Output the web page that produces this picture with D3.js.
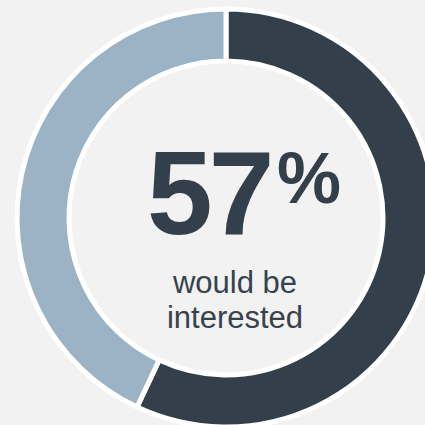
<!DOCTYPE html>
<html><head><meta charset="utf-8">
<script src="https://cdn.jsdelivr.net/npm/d3@7/dist/d3.min.js"></script>
<style>html,body{margin:0;padding:0;background:#f2f2f2;overflow:hidden}</style>
</head><body>
<svg id="c" width="425" height="425"></svg>
<script>
const categories = ["Would be interested", "Not interested"];
const values = [57, 43];
const colors = ["#333f4a", "#9bb3c4"];
const bigLabel = "57";
const pctLabel = "%";
const subLines = ["would be", "interested"];

const svg = d3.select("#c");
svg.append("rect").attr("width",425).attr("height",425).attr("fill","#f2f2f2");
const g = svg.append("g").attr("transform","translate(226,218)");
const pie = d3.pie().sort(null).value(d=>d)(values);
const arc = d3.arc().innerRadius(157).outerRadius(209);
g.selectAll("path").data(pie).join("path")
  .attr("d", arc)
  .attr("fill", (d,i)=>colors[i])
  .attr("stroke","#ffffff").attr("stroke-width",5).attr("stroke-linejoin","miter");

svg.append("text").attr("x",147).attr("y",234)
  .attr("font-family","Liberation Sans, Arial, sans-serif").attr("font-weight","bold")
  .attr("font-size",118).attr("letter-spacing",-4).attr("fill","#333f4a").text(bigLabel);
svg.append("text").attr("x",277).attr("y",203)
  .attr("font-family","Liberation Sans, Arial, sans-serif").attr("font-weight","bold")
  .attr("font-size",72).attr("fill","#333f4a").text(pctLabel);
subLines.forEach((t,i)=>{
  svg.append("text").attr("x",235).attr("y",293+i*35).attr("text-anchor","middle")
    .attr("font-family","Liberation Sans, Arial, sans-serif")
    .attr("font-size",31).attr("fill","#36424d").text(t);
});
</script>
</body></html>
